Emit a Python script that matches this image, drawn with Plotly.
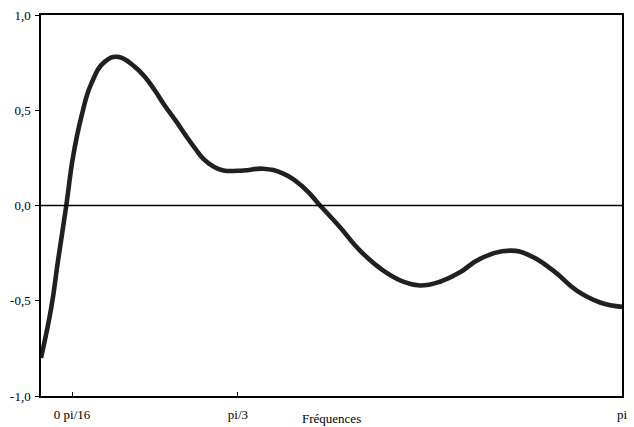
import math
import plotly.graph_objects as go

# Frequency axis (radians) and response values
freq = [0.0, 0.0557, 0.0919, 0.1368, 0.173, 0.218, 0.272, 0.344, 0.416, 0.507,
        0.561, 0.615, 0.669, 0.732, 0.788, 0.833, 0.878, 0.932, 0.986, 1.094,
        1.202, 1.310, 1.418, 1.509, 1.617, 1.725, 1.851, 1.959, 2.049, 2.157,
        2.266, 2.374, 2.536, 2.644, 2.770, 2.897, 3.023, math.pi]
response = [-0.80, -0.535, -0.29, 0.0, 0.254, 0.465, 0.64, 0.754, 0.78, 0.728,
            0.676, 0.605, 0.525, 0.44, 0.36, 0.30, 0.245, 0.205, 0.184, 0.184,
            0.193, 0.167, 0.096, 0.0, -0.114, -0.237, -0.342, -0.40, -0.42, -0.40,
            -0.35, -0.28, -0.237, -0.263, -0.342, -0.447, -0.509, -0.532]

x_tick_vals = [0.168, 1.065, math.pi]
x_tick_text = ["0 pi/16", "pi/3", "pi"]
y_tick_vals = [-1.0, -0.5, 0.0, 0.5, 1.0]
y_tick_text = ["-1,0", "-0,5", "0,0", "0,5", "1,0"]

FONT = "Liberation Serif, Times New Roman, serif"

fig = go.Figure()
fig.add_trace(go.Scatter(
    x=freq, y=response, mode="lines",
    line=dict(color="#231f20", width=4.6, shape="spline", smoothing=1.3),
    hoverinfo="skip", showlegend=False,
))

# zero reference line
fig.add_shape(type="line", xref="paper", x0=0, x1=1, yref="y", y0=0, y1=0,
              line=dict(color="black", width=1.3))

fig.update_layout(
    width=634, height=427,
    margin=dict(l=41, r=12, t=15, b=31, autoexpand=False),
    paper_bgcolor="white", plot_bgcolor="white",
    font=dict(family=FONT, size=13, color="black"),
    xaxis=dict(
        range=[0, math.pi], tickvals=x_tick_vals, ticktext=x_tick_text,
        ticks="inside", ticklen=4, tickwidth=1, tickcolor="black",
        showline=True, linecolor="black", linewidth=1.5, mirror=True,
        showgrid=False, zeroline=False, ticklabelstandoff=6, automargin=False,
    ),
    yaxis=dict(
        range=[-1, 1], tickvals=y_tick_vals, ticktext=y_tick_text,
        ticks="outside", ticklen=4, tickwidth=1, tickcolor="black",
        showline=True, linecolor="black", linewidth=1.5, mirror=True,
        showgrid=False, zeroline=False, ticklabelstandoff=2, automargin=False,
    ),
    annotations=[dict(
        text="Fréquences", xref="paper", yref="paper", x=0.5, y=0,
        yshift=-22, xanchor="center", yanchor="middle", showarrow=False,
        font=dict(family=FONT, size=13, color="black"),
    )],
)

fig.write_html("out.html")
